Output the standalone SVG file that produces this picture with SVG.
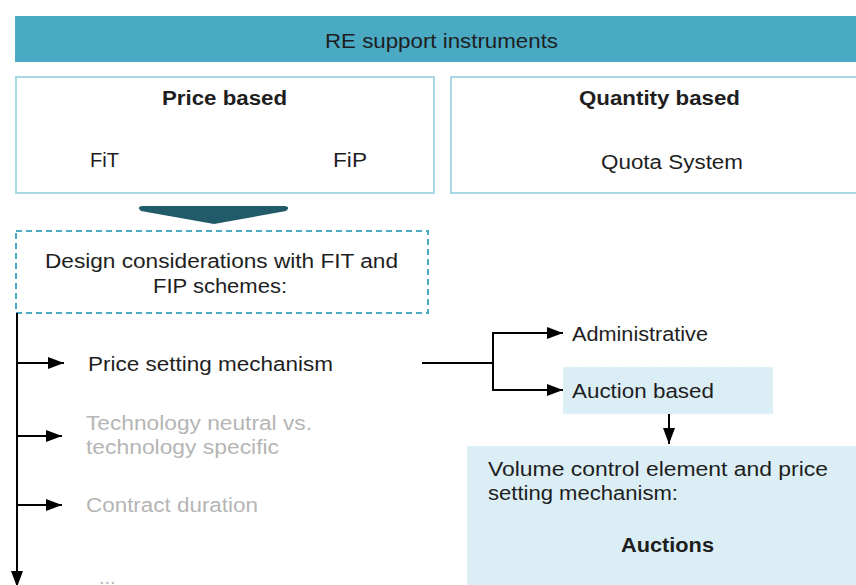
<svg xmlns="http://www.w3.org/2000/svg" width="856" height="585" viewBox="0 0 856 585">
<style>
text{font-family:"Liberation Sans",Arial,sans-serif;font-size:20px;fill:#1e1e1e}
.b{font-weight:bold}
.g{fill:#b5b5b5}
.box{fill:#fff;stroke:#a9d8e6;stroke-width:2}
.ln{fill:none;stroke:#000;stroke-width:2}
</style>
<defs>
<marker id="ah" viewBox="0 0 16 12" refX="16" refY="6" markerWidth="16" markerHeight="12" markerUnits="userSpaceOnUse" orient="auto">
<path d="M0,0 L16,6 L0,12 Z" fill="#000"/>
</marker>
</defs>
<g id="header">
<rect x="15" y="16" width="845" height="46" fill="#4aaac4"/>
<text x="441.5" y="48" text-anchor="middle" textLength="233" lengthAdjust="spacingAndGlyphs">RE support instruments</text>
</g>
<g id="price-based">
<rect class="box" x="16" y="77" width="418" height="116"/>
<text class="b" x="224.5" y="105" text-anchor="middle" textLength="125" lengthAdjust="spacingAndGlyphs">Price based</text>
<text x="90" y="167" textLength="29" lengthAdjust="spacingAndGlyphs">FiT</text>
<text x="333" y="167" textLength="34" lengthAdjust="spacingAndGlyphs">FiP</text>
</g>
<g id="quantity-based">
<rect class="box" x="451" y="77" width="410" height="116"/>
<text class="b" x="659.5" y="105" text-anchor="middle" textLength="161" lengthAdjust="spacingAndGlyphs">Quantity based</text>
<text x="601" y="169" textLength="142" lengthAdjust="spacingAndGlyphs">Quota System</text>
</g>
<g id="chevron">
<path d="M142,206 L285,206 Q291,207 286,211 L214,224 L141,211 Q136,207 142,206 Z" fill="#215a68"/>
</g>
<g id="design">
<rect x="16" y="231" width="412" height="82" fill="#fff" stroke="#4aaac4" stroke-width="2" stroke-dasharray="6,4"/>
<text x="221.5" y="268" text-anchor="middle" textLength="353" lengthAdjust="spacingAndGlyphs">Design considerations with FIT and</text>
<text x="220" y="293" text-anchor="middle" textLength="134" lengthAdjust="spacingAndGlyphs">FIP schemes:</text>
</g>
<g id="price-setting">
<text x="88" y="371" textLength="245" lengthAdjust="spacingAndGlyphs">Price setting mechanism</text>
</g>
<g id="technology">
<text class="g" x="86" y="430" textLength="226" lengthAdjust="spacingAndGlyphs">Technology neutral vs.</text>
<text class="g" x="86" y="454" textLength="193" lengthAdjust="spacingAndGlyphs">technology specific</text>
</g>
<g id="contract">
<text class="g" x="86" y="512" textLength="172" lengthAdjust="spacingAndGlyphs">Contract duration</text>
</g>
<g id="more">
<text class="g" x="99" y="584">...</text>
</g>
<g id="administrative">
<text x="572" y="341" textLength="136" lengthAdjust="spacingAndGlyphs">Administrative</text>
</g>
<g id="auction-based">
<rect x="563" y="367" width="210" height="47" fill="#dbeef5" stroke="#eef7fa" stroke-width="1" stroke-dasharray="3,2"/>
<text x="572" y="398" textLength="142" lengthAdjust="spacingAndGlyphs">Auction based</text>
</g>
<g id="auctions">
<rect x="467" y="446" width="395" height="145" fill="#dbeef5"/>
<text x="488" y="476" textLength="340" lengthAdjust="spacingAndGlyphs">Volume control element and price</text>
<text x="488" y="500" textLength="190" lengthAdjust="spacingAndGlyphs">setting mechanism:</text>
<text class="b" x="667.5" y="552" text-anchor="middle" textLength="93" lengthAdjust="spacingAndGlyphs">Auctions</text>
</g>
<g id="connectors">
<line class="ln" x1="17" y1="313" x2="17" y2="587" marker-end="url(#ah)"/>
<line class="ln" x1="18" y1="363" x2="64" y2="363" marker-end="url(#ah)"/>
<line class="ln" x1="18" y1="436" x2="62" y2="436" marker-end="url(#ah)"/>
<line class="ln" x1="18" y1="505" x2="62" y2="505" marker-end="url(#ah)"/>
<polyline class="ln" points="422,363 493,363"/>
<polyline class="ln" points="493,363 493,333 563,333" marker-end="url(#ah)"/>
<polyline class="ln" points="493,363 493,390 563,390" marker-end="url(#ah)"/>
<line class="ln" x1="669" y1="414" x2="669" y2="444" marker-end="url(#ah)"/>
</g>
</svg>
